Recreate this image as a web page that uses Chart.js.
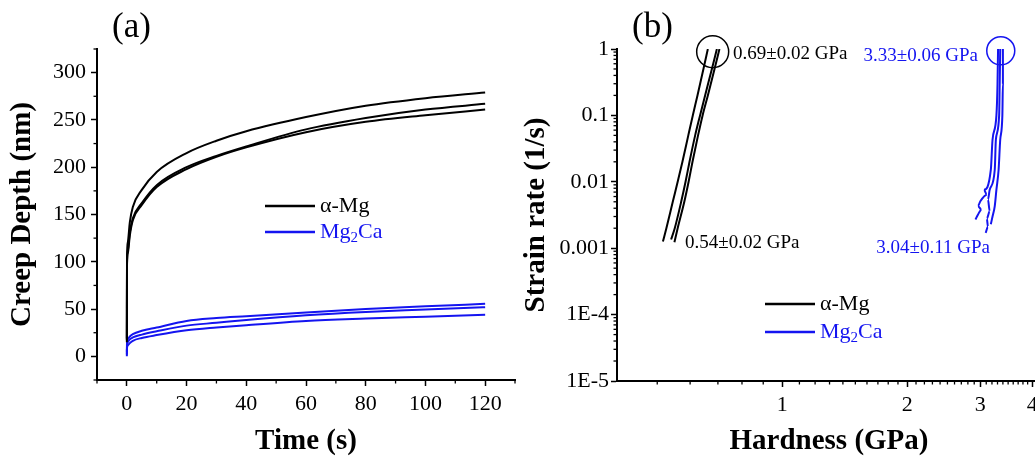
<!DOCTYPE html>
<html>
<head>
<meta charset="utf-8">
<script src="https://cdn.jsdelivr.net/npm/chart.js@4.4.1/dist/chart.umd.min.js"></script>
<style>
  html, body { margin: 0; padding: 0; background: #fff; overflow: hidden; }
  #wrap { position: relative; width: 1035px; height: 458px; overflow: hidden; }
  .box { position: absolute; top: 0; height: 458px; }
  #boxA { left: 0; width: 520px; }
  #boxB { left: 520px; width: 540px; }
</style>
</head>
<body>
<div id="wrap">
  <div class="box" id="boxA"><canvas id="creepChart"></canvas></div>
  <div class="box" id="boxB"><canvas id="rateChart"></canvas></div>
</div>
<script>
// ---- (a) creep depth vs time ----
const creepTime = [0, 0.05, 0.3, 1, 2, 5, 10, 20, 30, 40, 60, 80, 100, 120];
const mgDepth1 = [17, 102, 120, 142, 158, 176, 195, 215, 228, 238, 253, 265, 273, 279];
const mgDepth2 = [15, 96, 112, 131, 146, 162, 181, 200, 212, 222, 240, 252, 261, 267];
const mgDepth3 = [19, 98, 109, 128, 144, 160, 179, 198, 211, 221, 237, 248, 255, 261];
const mg2caDepth1 = [2, 14, 18, 21, 23.5, 27, 30.5, 37.5, 40.5, 42.5, 46.5, 50, 53, 55.5];
const mg2caDepth2 = [0, 11, 15, 18, 20, 23, 26.5, 32.5, 35.5, 38.5, 43.5, 47, 49.5, 52];
const mg2caDepth3 = [5, 9, 11.5, 14, 16.5, 19.5, 22.5, 27.5, 30.5, 33, 37.5, 40, 42, 44];
const timeTicks = [0, 20, 40, 60, 80, 100, 120];
const timeMinor = [-10, 10, 30, 50, 70, 90, 110, 130];
const depthTicks = [0, 50, 100, 150, 200, 250, 300];
const depthMinor = [-25, 25, 75, 125, 175, 225, 275, 325];

// ---- (b) strain rate vs hardness ----
const mgRate1 = [1, 0.5, 0.2, 0.1, 0.05, 0.02, 0.01, 0.005, 0.002, 0.00126];
const mgHard1 = [0.662, 0.646, 0.625, 0.609, 0.594, 0.575, 0.56, 0.545, 0.526, 0.516];
const mgRate2 = [1, 0.5, 0.2, 0.1, 0.05, 0.02, 0.01, 0.005, 0.002, 0.00135];
const mgHard2 = [0.696, 0.677, 0.652, 0.634, 0.617, 0.598, 0.585, 0.571, 0.551, 0.540];
const mgRate3 = [1, 0.5, 0.2, 0.1, 0.05, 0.02, 0.01, 0.005, 0.002, 0.00123];
const mgHard3 = [0.706, 0.687, 0.662, 0.643, 0.627, 0.608, 0.595, 0.581, 0.560, 0.550];
const mg2caRate1 = [1, 0.3, 0.1, 0.043, 0.0152, 0.0076, 0.0064, 0.0051, 0.0043, 0.0038, 0.0032, 0.0027];
const mg2caHard1 = [3.31, 3.30, 3.28, 3.21, 3.18, 3.06, 3.11, 3.00, 2.96, 3.02, 2.96, 2.92];
const mg2caRate2 = [1, 0.3, 0.1, 0.043, 0.0152, 0.0076, 0.0054, 0.0036, 0.0028, 0.0021, 0.0017];
const mg2caHard2 = [3.35, 3.34, 3.33, 3.27, 3.25, 3.16, 3.13, 3.16, 3.11, 3.13, 3.09];
const mg2caRate3 = [1, 0.3, 0.1, 0.043, 0.0152, 0.0076, 0.0043, 0.003, 0.0023];
const mg2caHard3 = [3.40, 3.40, 3.39, 3.35, 3.32, 3.28, 3.25, 3.21, 3.18];
const circleHard = [0.68, 3.36];
const circleRate = [0.91, 0.94];
const hardTicks = [1, 2, 3, 4];
const hardTickLabels = ['1', '2', '3', '4'];
const hardMinor = [0.5, 0.6, 0.7, 0.8, 0.9, 1.1, 1.2, 1.3, 1.4, 1.5, 1.6, 1.7, 1.8, 1.9,
  2.1, 2.2, 2.3, 2.4, 2.5, 2.6, 2.7, 2.8, 2.9, 3.1, 3.2, 3.3, 3.4, 3.5, 3.6, 3.7, 3.8, 3.9, 4.1];
const strainTicks = [1e-5, 1e-4, 1e-3, 1e-2, 0.1, 1];
const strainTickLabels = ['1E-5', '1E-4', '0.001', '0.01', '0.1', '1'];
const strainMinor = [];
for (let d = -5; d < 0; d++) for (let k = 2; k <= 9; k++) strainMinor.push(k * Math.pow(10, d));

const BLACK = '#000000';
const BLUE = '#1414f0';
const SERIF = "'Liberation Serif', 'Times New Roman', serif";

const toPts = (xs, ys) => xs.map((x, i) => ({ x: x, y: ys[i] }));

function lineSet(xs, ys, color) {
  return {
    data: toPts(xs, ys),
    borderColor: color,
    backgroundColor: color,
    borderWidth: 2,
    pointRadius: 0,
    showLine: true,
    cubicInterpolationMode: 'monotone'
  };
}

// minor ticks, legend, notes and panel letter
const decor = {
  id: 'decor',
  afterDraw(chart, args, opts) {
    const ctx = chart.ctx;
    const area = chart.chartArea;
    const xs = chart.scales.x, ys = chart.scales.y;
    ctx.save();
    ctx.strokeStyle = BLACK;
    ctx.lineWidth = 1.3;
    (opts.minorX || []).forEach(v => {
      const px = xs.getPixelForValue(v);
      if (px < area.left - 1) return;
      ctx.beginPath(); ctx.moveTo(px, area.bottom); ctx.lineTo(px, area.bottom + 3.5); ctx.stroke();
    });
    (opts.minorY || []).forEach(v => {
      const py = ys.getPixelForValue(v);
      if (py < area.top - 1 || py > area.bottom + 1) return;
      ctx.beginPath(); ctx.moveTo(area.left, py); ctx.lineTo(area.left - 3.5, py); ctx.stroke();
    });

    // legend
    const lg = opts.legend;
    ctx.textBaseline = 'middle';
    ctx.textAlign = 'left';
    ctx.lineWidth = 2.5;
    ctx.strokeStyle = BLACK;
    ctx.beginPath(); ctx.moveTo(lg.x, lg.y); ctx.lineTo(lg.x + 50, lg.y); ctx.stroke();
    ctx.fillStyle = BLACK;
    ctx.font = '22px ' + SERIF;
    ctx.fillText('α-Mg', lg.x + 55, lg.y);
    const y2 = lg.y + lg.gap;
    ctx.strokeStyle = BLUE;
    ctx.beginPath(); ctx.moveTo(lg.x, y2); ctx.lineTo(lg.x + 50, y2); ctx.stroke();
    ctx.fillStyle = BLUE;
    let tx = lg.x + 55;
    ctx.fillText('Mg', tx, y2);
    tx += ctx.measureText('Mg').width;
    ctx.font = '15px ' + SERIF;
    ctx.fillText('2', tx, y2 + 6);
    tx += ctx.measureText('2').width;
    ctx.font = '22px ' + SERIF;
    ctx.fillText('Ca', tx, y2);

    // notes
    (opts.notes || []).forEach(n => {
      ctx.font = '19px ' + SERIF;
      ctx.fillStyle = n.color;
      ctx.textAlign = n.align;
      ctx.fillText(n.text, n.x, n.y);
    });

    // panel letter
    ctx.font = '35px ' + SERIF;
    ctx.fillStyle = BLACK;
    ctx.textAlign = 'left';
    ctx.fillText(opts.letter, 112, 28);
    ctx.restore();
  }
};

function axisBase(title, titlePad) {
  return {
    border: { display: true, color: BLACK, width: 2 },
    grid: { display: true, drawOnChartArea: false, drawTicks: true, tickLength: 6, tickWidth: 1.5, tickColor: BLACK },
    title: { display: true, text: title, color: BLACK, font: { family: SERIF, size: 29, weight: 'bold', lineHeight: 1 }, padding: titlePad }
  };
}

// ---- panel (a) ----
new Chart(document.getElementById('creepChart'), {
  type: 'scatter',
  data: {
    datasets: [
      lineSet(creepTime, mgDepth1, BLACK),
      lineSet(creepTime, mgDepth2, BLACK),
      lineSet(creepTime, mgDepth3, BLACK),
      lineSet(creepTime, mg2caDepth1, BLUE),
      lineSet(creepTime, mg2caDepth2, BLUE),
      lineSet(creepTime, mg2caDepth3, BLUE)
    ]
  },
  options: {
    responsive: true,
    maintainAspectRatio: false,
    animation: false,
    layout: { padding: { left: 0, right: 5, top: 49, bottom: 0 } },
    plugins: {
      legend: { display: false },
      tooltip: { enabled: false },
      decor: {
        minorX: timeMinor,
        minorY: depthMinor,
        legend: { x: 265, y: 206, gap: 26 },
        notes: [],
        letter: '(a)'
      }
    },
    scales: {
      x: Object.assign(axisBase('Time (s)', { top: 0, bottom: 2 }), {
        type: 'linear',
        min: -10,
        max: 130,
        afterBuildTicks: s => { s.ticks = timeTicks.map(v => ({ value: v })); },
        afterFit: s => { s.height = 78; },
        ticks: { color: BLACK, padding: 5, maxRotation: 0, font: { family: SERIF, size: 22 } }
      }),
      y: Object.assign(axisBase('Creep Depth (nm)', { top: 8, bottom: 0 }), {
        type: 'linear',
        min: -25,
        max: 325,
        afterBuildTicks: s => { s.ticks = depthTicks.map(v => ({ value: v })); },
        afterFit: s => { s.width = 97; },
        ticks: { color: BLACK, padding: 5, font: { family: SERIF, size: 22 } }
      })
    }
  },
  plugins: [decor]
});

// ---- panel (b) ----
new Chart(document.getElementById('rateChart'), {
  type: 'scatter',
  data: {
    datasets: [
      lineSet(mgHard1, mgRate1, BLACK),
      lineSet(mgHard2, mgRate2, BLACK),
      lineSet(mgHard3, mgRate3, BLACK),
      lineSet(mg2caHard1, mg2caRate1, BLUE),
      lineSet(mg2caHard2, mg2caRate2, BLUE),
      lineSet(mg2caHard3, mg2caRate3, BLUE),
      {
        data: toPts(circleHard, circleRate),
        pointRadius: [16, 14],
        pointStyle: 'circle',
        borderColor: [BLACK, BLUE],
        pointBorderColor: [BLACK, BLUE],
        backgroundColor: 'rgba(0,0,0,0)',
        pointBackgroundColor: 'rgba(0,0,0,0)',
        borderWidth: 1.5,
        showLine: false,
        clip: false
      }
    ]
  },
  options: {
    responsive: true,
    maintainAspectRatio: false,
    animation: false,
    layout: { padding: { left: 0, right: 19, top: 49, bottom: 0 } },
    plugins: {
      legend: { display: false },
      tooltip: { enabled: false },
      decor: {
        minorX: hardMinor,
        minorY: strainMinor,
        legend: { x: 245, y: 304, gap: 28 },
        notes: [
          { text: '0.69±0.02 GPa', x: 213, y: 54, align: 'left', color: BLACK },
          { text: '3.33±0.06 GPa', x: 458, y: 56, align: 'right', color: BLUE },
          { text: '0.54±0.02 GPa', x: 165, y: 243, align: 'left', color: BLACK },
          { text: '3.04±0.11 GPa', x: 470, y: 248, align: 'right', color: BLUE }
        ],
        letter: '(b)'
      }
    },
    scales: {
      x: Object.assign(axisBase('Hardness (GPa)', { top: 0, bottom: 2 }), {
        type: 'logarithmic',
        min: 0.4,
        max: 4.2,
        afterBuildTicks: s => { s.ticks = hardTicks.map(v => ({ value: v })); },
        afterFit: s => { s.height = 77; },
        ticks: { color: BLACK, padding: 5, maxRotation: 0, autoSkip: false, font: { family: SERIF, size: 22 },
          callback: (v, i) => hardTickLabels[i] }
      }),
      y: Object.assign(axisBase('Strain rate (1/s)', { top: 2, bottom: 0 }), {
        type: 'logarithmic',
        min: 1e-5,
        max: 1,
        afterBuildTicks: s => { s.ticks = strainTicks.map(v => ({ value: v })); },
        afterFit: s => { s.width = 97; },
        ticks: { color: BLACK, padding: 2, autoSkip: false, font: { family: SERIF, size: 22 },
          callback: (v, i) => strainTickLabels[i] }
      })
    }
  },
  plugins: [decor]
});
</script>
</body>
</html>
